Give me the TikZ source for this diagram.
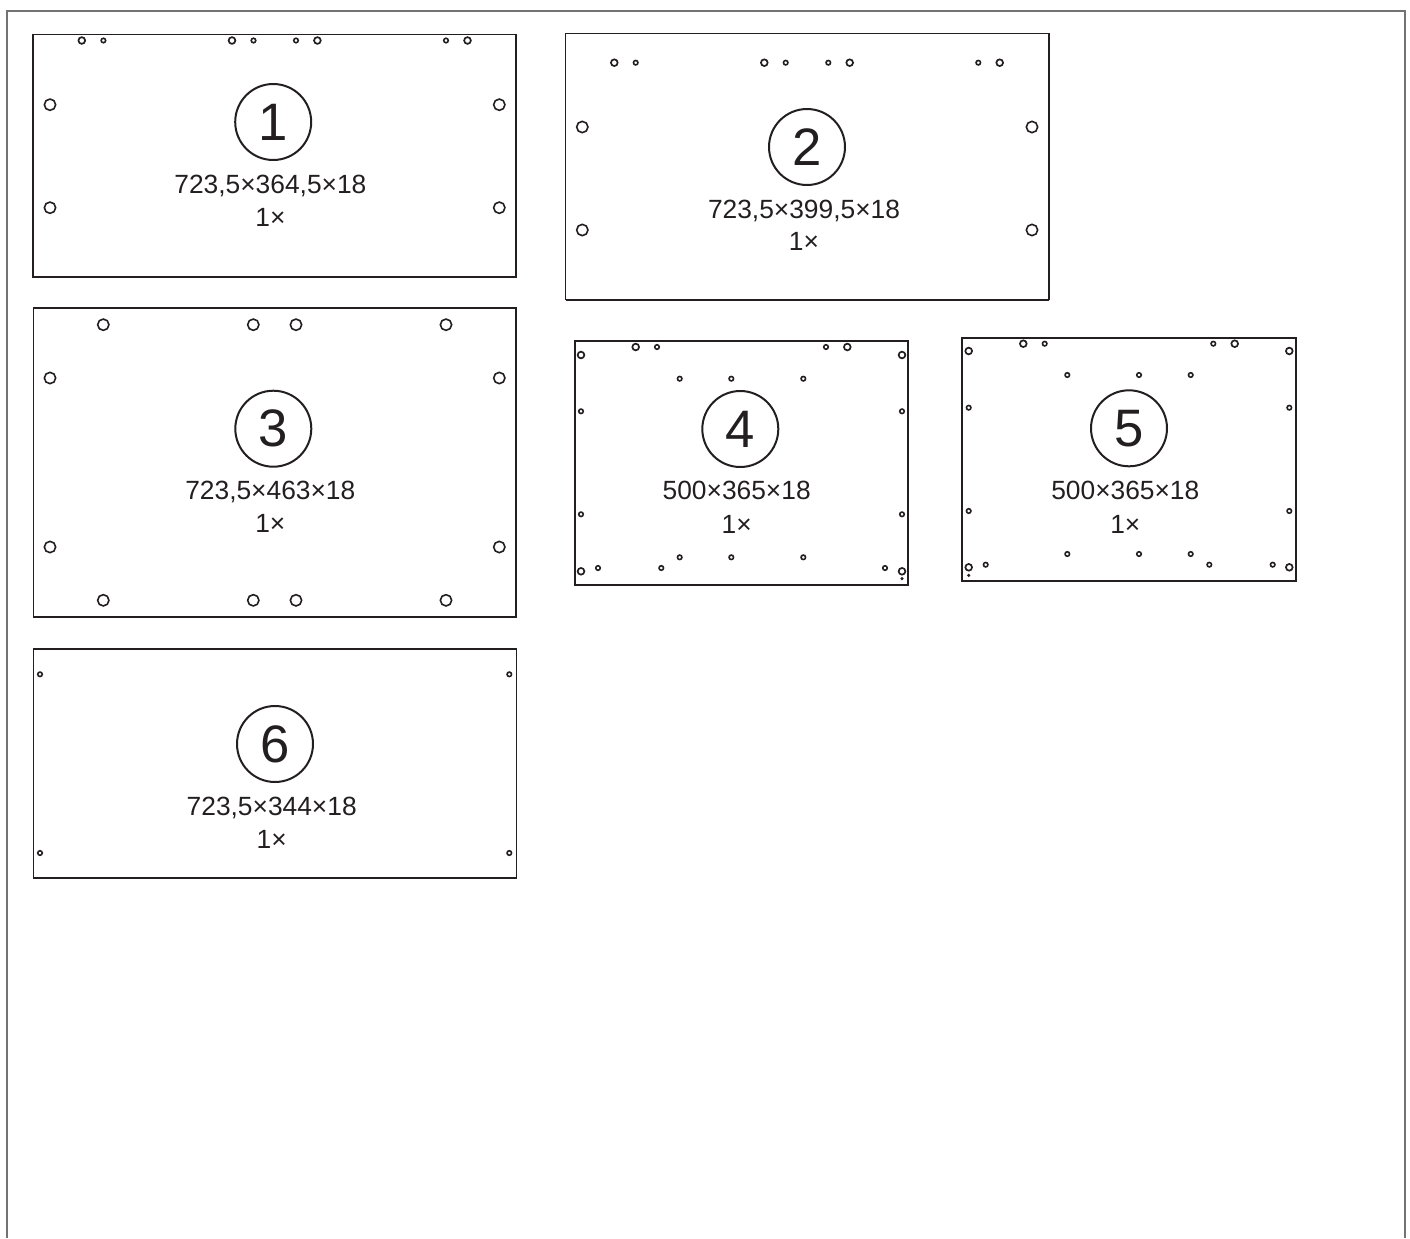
\documentclass[tikz,border=0pt]{standalone}
\usepackage{fontspec}
\setmainfont{Liberation Sans}
\definecolor{ink}{HTML}{231F20}
\begin{document}
\begin{tikzpicture}[x=0.02cm,y=-0.02cm]
	\tikzstyle{frame}=[draw=black!55,line width=1.6*0.02cm]
	\tikzstyle{panel}=[draw=ink,line width=1.3*0.02cm]
	\tikzstyle{base}=[draw=ink,line width=2.3*0.02cm]
	\tikzstyle{tag}=[circle,draw=ink,line width=2*0.02cm,inner sep=0pt,minimum size=1.52cm,text=ink,font=\fontsize{30}{34}\selectfont]
	\tikzstyle{size}=[inner sep=0pt,text depth=0pt,text=ink,font=\fontsize{15}{18}\selectfont]
	\tikzstyle{wide}=[circle,draw=ink,line width=1.6*0.02cm,inner sep=0pt,minimum size=0.226cm]
	\tikzstyle{bore}=[circle,draw=ink,line width=1.7*0.02cm,inner sep=0pt,minimum size=0.134cm]
	\tikzstyle{pin}=[circle,draw=ink,line width=1.6*0.02cm,inner sep=0pt,minimum size=0.09cm]
	\tikzstyle{dot}=[circle,fill=ink,inner sep=0pt,minimum size=0.07cm]
	\useasboundingbox (0,0) rectangle (1410,1238);
	\draw[frame] (6.8,1238) -- (6.8,11) -- (1404.7,11) -- (1404.7,1238);

	% part 1
	\begin{scope}
		\draw[panel] (33,34.5) rectangle (516,277);
		\draw[base] (33,277) -- (516,277);
		\node [tag] (t1) at (273.2,122) {1};
		\node [size] (s1) at (270.4,184) {723,5×364,5×18};
		\node [size] (n1) at (270.4,217) {1×};
		\foreach \x/\y [count=\i] in {50/104.7,499.3/104.7,50/207.7,499.3/207.7}
			\node [wide] (a1\i) at (\x,\y) {};
		\foreach \x [count=\i] in {81.8,232,317.4,467.5}
			\node [bore] (b1\i) at (\x,40.5) {};
		\foreach \x [count=\i] in {103.4,253.5,296,446}
			\node [pin] (c1\i) at (\x,40.5) {};
	\end{scope}

	% part 2
	\begin{scope}
		\draw[panel] (565.7,33.5) rectangle (1049,299.7);
		\draw[base] (565.7,299.7) -- (1049,299.7);
		\node [tag] (t2) at (807,147) {2};
		\node [size] (s2) at (804,209) {723,5×399,5×18};
		\node [size] (n2) at (804,241.7) {1×};
		\foreach \x/\y [count=\i] in {582.3/127,1032/127,582.3/230,1032/230}
			\node [wide] (a2\i) at (\x,\y) {};
		\foreach \x [count=\i] in {614.3,764.3,849.7,999.7}
			\node [bore] (b2\i) at (\x,62.7) {};
		\foreach \x [count=\i] in {635.7,785.7,828.3,978.3}
			\node [pin] (c2\i) at (\x,62.7) {};
	\end{scope}

	% part 3
	\begin{scope}
		\draw[panel] (33.3,308) rectangle (516,617);
		\node [tag] (t3) at (273.3,428.7) {3};
		\node [size] (s3) at (270.3,490.7) {723,5×463×18};
		\node [size] (n3) at (270.3,523.7) {1×};
		\foreach \x/\y [count=\i] in {103.3/324.7,253.3/324.7,296/324.7,446/324.7,
			50/378,499.3/378,50/547,499.3/547,
			103.3/600.3,253.3/600.3,296/600.3,446/600.3}
			\node [wide] (a3\i) at (\x,\y) {};
	\end{scope}

	% part 4
	\begin{scope}
		\draw[panel,line width=1.8*0.02cm] (575,341.3) rectangle (908.3,584.7);
		\draw[base] (575,584.7) -- (908.3,584.7);
		\node [tag] (t4) at (740.3,429) {4};
		\node [size] (s4) at (736.7,490.7) {500×365×18};
		\node [size] (n4) at (736.7,524.7) {1×};
		\foreach \x/\y [count=\i] in {635.7/347,847.3/347,581/355,902/355,581/571.3,902/571.3}
			\node [bore] (b4\i) at (\x,\y) {};
		\foreach \x/\y [count=\i] in {657/347,826/347,679.7/378.7,731.3/378.7,803.3/378.7,
			581/411.3,902/411.3,581/514.3,902/514.3,
			679.7/557.3,731.3/557.3,803.3/557.3,598/568,661.3/568,885/568}
			\node [pin] (c4\i) at (\x,\y) {};
		\node [dot] (d4) at (902,578.7) {};
	\end{scope}

	% part 5
	\begin{scope}
		\draw[panel,line width=1.8*0.02cm] (962.3,338) rectangle (1295.7,580.7);
		\draw[base] (962.3,580.7) -- (1295.7,580.7);
		\node [tag] (t5) at (1129,428.3) {5};
		\node [size] (s5) at (1125.3,490.7) {500×365×18};
		\node [size] (n5) at (1125.3,524) {1×};
		\foreach \x/\y [count=\i] in {1023.3/343.7,1234.7/343.7,968.7/351,1289.3/351,968.7/567.3,1289.3/567.3}
			\node [bore] (b5\i) at (\x,\y) {};
		\foreach \x/\y [count=\i] in {1044.7/343.7,1213.3/343.7,1067.3/375,1139/375,1190.7/375,
			968.7/407.7,1289.3/407.7,968.7/511,1289.3/511,
			1067.3/554,1139/554,1190.7/554,985.7/564.7,1209.3/564.7,1272.7/564.7}
			\node [pin] (c5\i) at (\x,\y) {};
		\node [dot] (d5) at (968.7,575.3) {};
	\end{scope}

	% part 6
	\begin{scope}
		\draw[panel] (33.7,649) rectangle (516.7,878);
		\draw[base] (33.7,878) -- (516.7,878);
		\node [tag] (t6) at (275,744) {6};
		\node [size] (s6) at (271.7,806) {723,5×344×18};
		\node [size] (n6) at (271.7,839) {1×};
		\foreach \x/\y [count=\i] in {40/674.3,509.3/674.3,40/853,509.3/853}
			\node [pin] (c6\i) at (\x,\y) {};
	\end{scope}
\end{tikzpicture}
\end{document}
